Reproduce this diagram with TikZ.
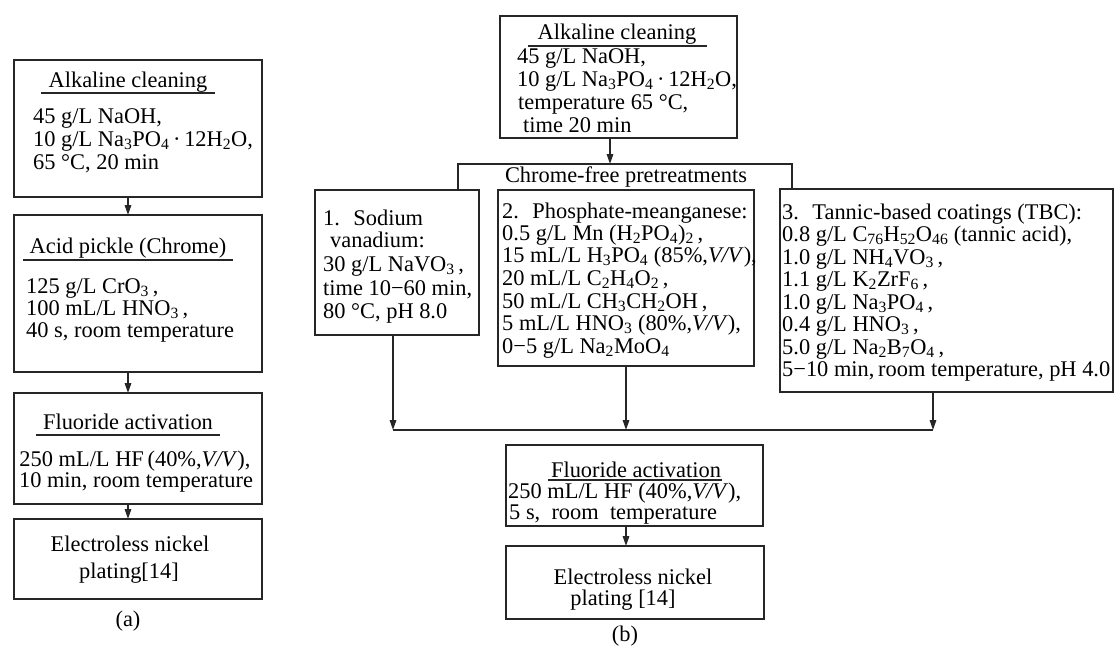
\documentclass[tikz,border=0pt]{standalone}
\usepackage{fontspec}
\setmainfont{Liberation Serif}
\usetikzlibrary{arrows.meta}
\newcommand\sbs[1]{\textsubscript{#1}}
\newcommand\fs{\fontsize{22.4pt}{22.5pt}\selectfont}
\begin{document}
\begin{tikzpicture}[x=1pt,y=-1pt,
  box/.style={draw=black!85,line width=1.5pt,inner sep=0pt,outer sep=0pt,anchor=north west},
  lt/.style={font=\fs,inner sep=0pt,anchor=base west},
  ct/.style={font=\fs,inner sep=0pt,anchor=base},
  arr/.style={draw=black!85,line width=1.5pt,-{Triangle[length=10pt,width=6.5pt]}},
  lnk/.style={draw=black!85,line width=1.5pt},
  ul/.style={draw=black!85,line width=1.1pt}]
\useasboundingbox (0,0) rectangle (1115,646);

% ---------------- (a) ----------------
\node[box,minimum width=248pt,minimum height=137pt] (a1) at (14,60) {};
\node[ct] (a1t) at (128,87) {Alkaline cleaning};
\draw[ul] ([shift={(-7pt,-6pt)}]a1t.base west) -- ([shift={(7pt,-6pt)}]a1t.base east);
\node[lt] (a1l1) at (33,123) {45 g/L NaOH,};
\node[lt] (a1l2) at (33,146) {10 g/L Na\sbs{3}PO\sbs{4}\,·\,12H\sbs{2}O,};
\node[lt] (a1l3) at (33,169) {65 °C, 20 min};

\node[box,minimum width=248pt,minimum height=157pt] (a2) at (14,215) {};
\node[ct] (a2t) at (128,253) {Acid pickle (Chrome)};
\draw[ul] ([shift={(-7pt,-7pt)}]a2t.base west) -- ([shift={(7pt,-7pt)}]a2t.base east);
\node[lt] (a2l1) at (26,293) {125 g/L CrO\sbs{3}\,,};
\node[lt] (a2l2) at (26,315) {100 mL/L HNO\sbs{3}\,,};
\node[lt] (a2l3) at (26,337) {40 s, room temperature};

\node[box,minimum width=248pt,minimum height=111pt] (a3) at (14,393) {};
\node[ct] (a3t) at (128,429) {Fluoride activation};
\draw[ul] ([shift={(-7pt,-6pt)}]a3t.base west) -- ([shift={(7pt,-6pt)}]a3t.base east);
\node[ct] (a3l1) at (135,466) {250 mL/L HF\,(40\%,\textit{V/V}),};
\node[ct] (a3l2) at (136,487) {10 min, room temperature};

\node[box,minimum width=248pt,minimum height=80pt] (a4) at (14,519) {};
\node[ct] (a4l1) at (130,551) {Electroless nickel};
\node[ct] (a4l2) at (129,578) {plating[14]};
\node[ct] (alab) at (128,626) {(a)};

\draw[arr] ([xshift=114pt]a1.south west) -- ([xshift=114pt]a2.north west);
\draw[arr] ([xshift=114pt]a2.south west) -- ([xshift=114pt]a3.north west);
\draw[arr] ([xshift=114pt]a3.south west) -- ([xshift=114pt]a4.north west);

% ---------------- (b) ----------------
\node[box,minimum width=237pt,minimum height=122pt] (b0) at (500,16) {};
\node[ct] (b0t) at (617,39) {Alkaline cleaning};
\draw[ul] ([shift={(-10pt,-7pt)}]b0t.base west) -- ([shift={(10pt,-7pt)}]b0t.base east);
\node[lt] (b0l1) at (517,63) {45 g/L NaOH,};
\node[lt] (b0l2) at (517,86) {10 g/L Na\sbs{3}PO\sbs{4}\,·\,12H\sbs{2}O,};
\node[lt] (b0l3) at (518,109) {temperature 65 °C,};
\node[lt] (b0l4) at (523,132) {time 20 min};

\coordinate (bl) at (458,164);
\coordinate (bm) at (610,164);
\coordinate (br) at (792,164);
\node[ct] (cfp) at (626,182) {Chrome-free pretreatments};

\node[box,minimum width=164pt,minimum height=145pt] (b1) at (315,190) {};
\node[lt] (b1l1) at (323,225) {1.\hspace{0.6em}Sodium};
\node[lt] (b1l2) at (330,247) {vanadium:};
\node[lt] (b1l3) at (323,271) {30 g/L NaVO\sbs{3}\,,};
\node[lt] (b1l4) at (323,295) {time 10−60 min,};
\node[lt] (b1l5) at (323,318) {80 °C, pH 8.0};

\node[box,minimum width=256pt,minimum height=176pt] (b2) at (498,190) {};
\node[lt] (b2l1) at (502,218) {2.\hspace{0.6em}Phosphate-meanganese:};
\node[lt] (b2l2) at (502,240) {0.5 g/L Mn (H\sbs{2}PO\sbs{4})\sbs{2}\,,};
\node[lt] (b2l3) at (502,262) {15 mL/L H\sbs{3}PO\sbs{4} (85\%,\textit{V/V}),};
\node[lt] (b2l4) at (502,285) {20 mL/L C\sbs{2}H\sbs{4}O\sbs{2}\,,};
\node[lt] (b2l5) at (502,308) {50 mL/L CH\sbs{3}CH\sbs{2}OH\,,};
\node[lt] (b2l6) at (502,330) {5 mL/L HNO\sbs{3} (80\%,\textit{V/V}),};
\node[lt] (b2l7) at (502,353) {0−5 g/L Na\sbs{2}MoO\sbs{4}};

\node[box,minimum width=333pt,minimum height=203pt] (b3) at (780,189) {};
\node[lt] (b3l1) at (782,219) {3.\hspace{0.6em}Tannic-based coatings (TBC):};
\node[lt] (b3l2) at (782,241.5) {0.8 g/L C\sbs{76}H\sbs{52}O\sbs{46} (tannic acid),};
\node[lt] (b3l3) at (782,264) {1.0 g/L NH\sbs{4}VO\sbs{3}\,,};
\node[lt] (b3l4) at (782,286.5) {1.1 g/L K\sbs{2}ZrF\sbs{6}\,,};
\node[lt] (b3l5) at (782,309) {1.0 g/L Na\sbs{3}PO\sbs{4}\,,};
\node[lt] (b3l6) at (782,331.5) {0.4 g/L HNO\sbs{3}\,,};
\node[lt] (b3l7) at (782,354) {5.0 g/L Na\sbs{2}B\sbs{7}O\sbs{4}\,,};
\node[lt] (b3l8) at (782,376.5) {5−10 min,\,room temperature, pH 4.0};

\draw[arr] ([xshift=110pt]b0.south west) -- (bm);
\draw[lnk] ([xshift=143pt]b1.north west) -- (bl) -- (br) -- ([xshift=12pt]b3.north west);

\coordinate (m1) at (393,430);
\coordinate (m2) at (626,430);
\coordinate (m3) at (933,430);
\draw[lnk] (m1) -- (m3);
\draw[arr] ([xshift=78pt]b1.south west) -- (m1);
\draw[arr] ([xshift=128pt]b2.south west) -- (m2);
\draw[arr] ([xshift=153pt]b3.south west) -- (m3);

\node[box,minimum width=257pt,minimum height=81pt] (f) at (506,445) {};
\node[ct] (ft) at (636,477) {Fluoride activation};
\draw[ul] ([shift={(-3pt,-3pt)}]ft.base west) -- ([shift={(1pt,-3pt)}]ft.base east);
\node[lt] (fl1) at (508,498) {250 mL/L HF (40\%,\textit{V/V}),};
\node[lt] (fl2) at (509,519) {5 s,\ \ room\ \ temperature};

\node[box,minimum width=258pt,minimum height=73pt] (e) at (506,546) {};
\node[ct] (el1) at (633,584) {Electroless nickel};
\node[ct] (el2) at (623,605) {plating [14]};
\node[ct] (blab) at (625,641) {(b)};

\draw[arr] ([xshift=120pt]f.south west) -- ([xshift=120pt]e.north west);
\end{tikzpicture}
\end{document}
